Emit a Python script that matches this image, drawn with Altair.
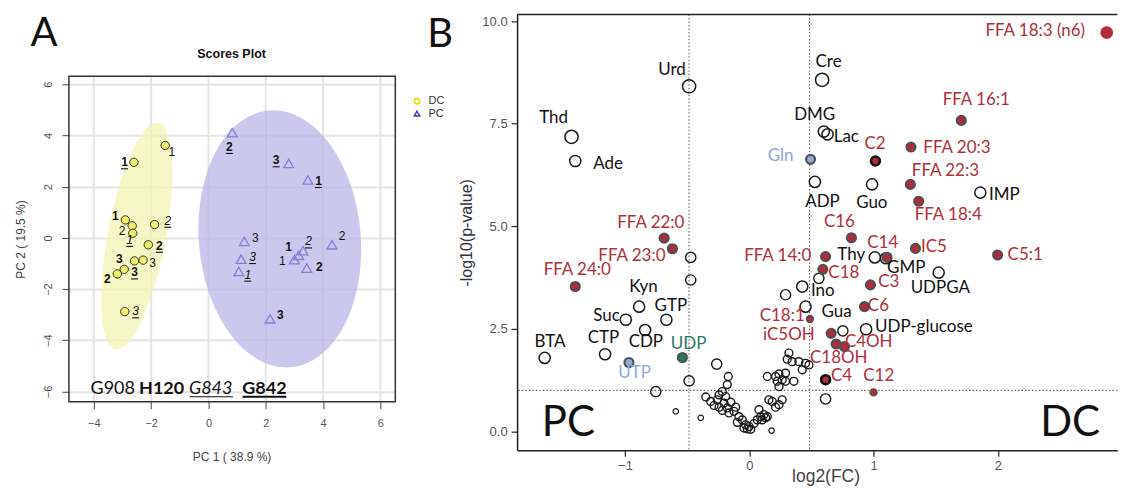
import altair as alt
import numpy as np
import pandas as pd

# ---------------- Panel A data (PCA scores) ----------------
dc_x = [-1.51, -2.60, -2.90, -2.66, -2.64, -1.88, -2.10, -2.58, -2.28, -2.94, -3.18, -2.92]
dc_y = [3.61, 2.95, 0.70, 0.47, 0.18, 0.52, -0.27, -0.90, -0.87, -1.23, -1.41, -2.88]
dc_lbl = ["1", "1", "1", "2", "1", "2", "2", "3", "3", "3", "2", "3"]
dc_sty = ["P", "BU", "B", "P", "IU", "IU", "BU", "B", "P", "BU", "B", "IU"]
dc_lx = [-1.28, -2.93, -3.25, -3.01, -2.75, -1.42, -1.71, -3.11, -1.95, -2.58, -3.53, -2.54]
dc_ly = [3.36, 2.95, 0.87, 0.27, -0.08, 0.67, -0.31, -0.83, -0.97, -1.35, -1.61, -2.87]

pc_x = [0.83, 2.80, 3.47, 1.25, 1.14, 1.06, 3.00, 3.15, 3.30, 3.43, 4.31, 2.15]
pc_y = [4.11, 2.91, 2.26, -0.14, -0.83, -1.31, -0.85, -0.68, -0.50, -1.18, -0.27, -3.16]
pc_lbl = ["2", "3", "1", "3", "3", "1", "1", "1", "2", "2", "2", "3"]
pc_sty = ["BU", "BU", "BU", "P", "IU", "IU", "P", "B", "IU", "B", "P", "B"]
pc_lx = [0.73, 2.36, 3.84, 1.64, 1.54, 1.37, 2.58, 2.80, 3.49, 3.87, 4.66, 2.51]
pc_ly = [3.55, 3.03, 2.22, -0.01, -0.75, -1.44, -0.92, -0.34, -0.14, -1.12, 0.08, -3.03]

# confidence ellipses: centre, conjugate half-axis (to top point), horizontal half-width
ell_dc = dict(cx=-2.50, cy=0.07, ux=0.70, uy=4.43, w=1.03)
ell_pc = dict(cx=2.49, cy=-0.04, ux=-0.23, uy=5.02, w=2.83)

ticksA = [-4, -2, 0, 2, 4, 6]
ticksAy = [-6, -4, -2, 0, 2, 4, 6]

# ---------------- Panel B data (volcano) ----------------
b_name = ["Urd", "Thd", "Ade", "Kyn", "Suc", "GTP", "CDP", "CTP", "BTA", "Cre", "DMG", "Lac",
          "ADP", "Guo", "IMP", "Thy", "GMP", "Ino", "Gua", "UDP-glucose", "UDPGA",
          "FFA 22:0", "FFA 23:0", "FFA 24:0", "FFA 18:3 (n6)", "FFA 16:1", "C2", "FFA 20:3",
          "FFA 22:3", "FFA 18:4", "C16", "FFA 14:0", "C14", "IC5", "C18", "C3", "C6", "C18:1",
          "iC5OH", "C18OH", "C4OH", "C4", "C12", "C5:1",
          "Gln", "UTP", "UDP"]
b_x = [-0.484, -1.43, -1.40, -0.886, -0.993, -0.667, -0.838, -1.16, -1.646, 0.586, 0.600, 0.630,
       0.528, 0.988, 1.859, 1.01, 1.10, 0.426, 0.453, 0.940, 1.524,
       -0.685, -0.618, -1.40, 2.876, 1.706, 1.015, 1.301,
       1.296, 1.363, 0.822, 0.614, 1.108, 1.337, 0.592, 0.975, 0.927, 0.488,
       0.659, 0.699, 0.766, 0.614, 1.0, 1.998,
       0.493, -0.968, -0.538]
b_y = [8.41, 7.18, 6.59, 3.04, 2.72, 2.72, 2.47, 1.88, 1.79, 8.57, 7.31, 7.24,
       6.08, 6.02, 5.82, 4.24, 4.22, 3.53, 3.04, 2.49, 3.87,
       4.71, 4.45, 3.53, 9.72, 7.58, 6.59, 6.93,
       6.02, 5.61, 4.72, 4.26, 4.24, 4.46, 3.95, 3.57, 3.04, 2.74,
       2.39, 2.13, 2.07, 1.26, 0.95, 4.30,
       6.63, 1.68, 1.80]
b_group = (["other"] * 21) + (["lipid"] * 23) + ["glnutp", "glnutp", "udp"]
b_lx = [-0.621, -1.574, -1.136, -0.851, -1.149, -0.631, -0.832, -1.173, -1.603, 0.638, 0.526, 0.781,
        0.589, 0.986, 2.052, 0.820, 1.263, 0.592, 0.703, 1.405, 1.537,
        -0.792, -0.944, -1.384, 2.301, 1.826, 1.012, 1.671,
        1.578, 1.601, 0.725, 0.229, 1.074, 1.486, 0.761, 1.122, 1.039, 0.265,
        0.319, 0.720, 0.961, 0.742, 1.042, 2.220,
        0.252, -0.922, -0.488]
b_ly = [8.80, 7.63, 6.51, 3.51, 2.82, 3.06, 2.17, 2.27, 2.19, 9.00, 7.71, 7.18,
        5.60, 5.56, 5.76, 4.30, 3.98, 3.41, 2.92, 2.54, 3.49,
        5.09, 4.27, 3.93, 9.75, 8.07, 7.00, 6.91,
        6.34, 5.27, 5.11, 4.27, 4.58, 4.50, 3.87, 3.63, 3.06, 2.82,
        2.35, 1.79, 2.19, 1.34, 1.36, 4.30,
        6.72, 1.42, 2.13]

# unlabelled metabolites
cl_x = [-0.169, -0.177, -0.217, -0.243, -0.190, -0.350, -0.310, -0.257, -0.203, -0.149, -0.283,
        -0.243, -0.177, -0.109, -0.217, -0.163, -0.123, -0.083, -0.056, -0.096, -0.029, -0.043,
        -0.002, 0.038, 0.064, 0.092, 0.118, 0.078, 0.132, 0.104, 0.145, 0.158, 0.185, 0.239,
        0.265, 0.212, 0.145, 0.212, 0.239, 0.292, 0.265, 0.225, 0.292, 0.359, 0.239, 0.319,
        0.305, 0.345, 0.399, 0.453, 0.426, 0.480, -0.016, 0.012]
cl_y = [1.34, 1.14, 0.97, 0.89, 0.85, 0.84, 0.73, 0.77, 0.69, 0.71, 0.63,
        0.59, 0.57, 0.59, 0.51, 0.45, 0.49, 0.36, 0.28, 0.22, 0.16, 0.08,
        0.12, 0.19, 0.28, 0.36, 0.41, 0.53, 0.33, 0.28, 0.36, 0.77, 0.73, 0.65,
        0.77, 0.59, 1.34, 1.34, 1.40, 1.42, 1.26, 1.22, 1.22, 1.22, 1.09, 1.91,
        1.76, 1.70, 1.70, 1.66, 1.50, 1.62, 0.06, 0.05]
ul_x = [-0.471, -0.471, 0.56, 0.292, 0.753, -0.262, -0.484, -0.752, 0.614]
ul_y = [4.24, 3.69, 3.73, 3.33, 2.45, 1.64, 1.23, 0.97, 0.79]
sm_x = [-0.591, -0.39, 0.18]
sm_y = [0.49, 0.33, 0.02]

fc_cut = [-0.485, 0.485]
p_cut = [1.0]
ticksBx = [-1, 0, 1, 2]
ticksBy = [0, 2.5, 5, 7.5, 10]

# ---------------- helpers ----------------
def ellipse_df(e, n=90):
    th = np.linspace(0, np.pi, n)
    dy = e["uy"] * np.cos(th)
    mid = e["cx"] + e["ux"] / e["uy"] * dy
    half = e["w"] * np.sqrt(np.clip(1 - (dy / e["uy"]) ** 2, 0, None))
    return pd.DataFrame({"y": e["cy"] + dy, "xa": mid - half, "xb": mid + half})

A_W, A_H = 327, 388      # panel A group height; plot frame from y=62 to y=388
A_TOP = 62
B_W, B_H = 601.3, 436.7
FONT = "Liberation Sans"
CAL = "Lato"

xsA = alt.Scale(domain=[-4.87, 6.52], nice=False, zero=False)
ysA = alt.Scale(domain=[-6.4, 6.31], nice=False, zero=False, range=[A_H, A_TOP])
axAx = alt.Axis(values=ticksA, grid=False, domain=False,
                tickColor="#444", tickSize=7, labelColor="#555", labelFont=FONT, labelFontSize=11,
                labelPadding=9, title="PC 1 ( 38.9 %)", titleFont=FONT, titleFontSize=12,
                titleFontWeight="normal", titleColor="#444", titleX=163, titleY=55,
                titleBaseline="middle", titleAlign="center")
axAy = alt.Axis(values=ticksAy, grid=True, gridColor="#e4e4e4", gridWidth=2, domain=False,
                tickColor="#444", tickSize=7, labelColor="#555", labelFont=FONT, labelFontSize=11,
                labelAngle=270, labelAlign="center", labelBaseline="bottom", labelPadding=8,
                title="PC 2 ( 19.5 %)", titleFont=FONT, titleFontSize=12, titleFontWeight="normal",
                titleColor="#444", titleX=-48.3, titleY=225, titleAngle=270,
                titleBaseline="middle", titleAlign="center")

def AX(f):
    return alt.X(f, type="quantitative", scale=xsA, axis=axAx)

def AY(f):
    return alt.Y(f, type="quantitative", scale=ysA, axis=axAy)

dc = pd.DataFrame({"x": dc_x, "y": dc_y, "lbl": dc_lbl, "sty": dc_sty, "lx": dc_lx, "ly": dc_ly})
pc = pd.DataFrame({"x": pc_x, "y": pc_y, "lbl": pc_lbl, "sty": pc_sty, "lx": pc_lx, "ly": pc_ly})
labA = pd.concat([dc, pc], ignore_index=True)
one = pd.DataFrame({"t": [""]})

gridA = alt.Chart(pd.DataFrame({"t": ticksA})).mark_rule(color="#e4e4e4", strokeWidth=2).encode(
    x=AX("t"), y=alt.value(A_TOP), y2=alt.value(A_H))

ellA = alt.Chart(ellipse_df(ell_dc)).mark_area(orient="horizontal", color="#f3f3b4", opacity=0.75).encode(
    y=AY("y"), x=AX("xa"), x2="xb")
ellB = alt.Chart(ellipse_df(ell_pc)).mark_area(orient="horizontal", color="#b8b3e6", opacity=0.72).encode(
    y=AY("y"), x=AX("xa"), x2="xb")

ptsDC = alt.Chart(dc).mark_point(shape="circle", filled=True, fill="#f2ec6c", stroke="#333",
                                 strokeWidth=1, size=70, opacity=1).encode(x=AX("x"), y=AY("y"))
ptsPC = alt.Chart(pc).mark_point(shape="triangle-up", filled=False, color="#8080d4", strokeWidth=1.3,
                                 size=95, opacity=1).encode(x=AX("x"), y=AY("y"))

def lab_layer(styles, weight, style):
    return alt.Chart(labA).transform_filter(alt.FieldOneOfPredicate(field="sty", oneOf=styles)).mark_text(
        font=FONT, fontSize=12, fontWeight=weight, fontStyle=style, color="#111",
        align="center", baseline="middle").encode(x=AX("lx"), y=AY("ly"), text="lbl:N")

labP = lab_layer(["P"], "normal", "normal")
labB = lab_layer(["B", "BU"], "bold", "normal")
labI = lab_layer(["IU"], "normal", "italic")
underA = alt.Chart(labA).transform_filter(alt.FieldOneOfPredicate(field="sty", oneOf=["BU", "IU"])).mark_rule(
    color="#111", strokeWidth=1.1, yOffset=6.5, xOffset=-3.5, x2Offset=3.5).encode(
    x=AX("lx"), x2="lx", y=AY("ly"))

def vtext(txt, x, y, size, weight="normal", style="normal", align="left", font=CAL, color="#111",
          baseline="alphabetic"):
    return alt.Chart(pd.DataFrame({"t": [txt]})).mark_text(
        font=font, fontSize=size, fontWeight=weight, fontStyle=style, align=align,
        baseline=baseline, color=color).encode(x=alt.value(x), y=alt.value(y), text="t:N")

cells = [vtext("G908", 21.7, 380.3, 18), vtext("H120", 70.3, 380.3, 18, weight="bold"),
         vtext("G843", 120.3, 380.3, 18, style="italic"), vtext("G842", 173.7, 380.3, 18, weight="bold")]
ul1 = alt.Chart(one).mark_rule(color="#111", strokeWidth=1.2).encode(
    x=alt.value(121), x2=alt.value(164.3), y=alt.value(383))
ul2 = alt.Chart(one).mark_rule(color="#111", strokeWidth=2).encode(
    x=alt.value(174), x2=alt.value(217.7), y=alt.value(383))

titleA = vtext("Scores Plot", 163, 40, 12.5, weight="bold", align="center", font=FONT,
               baseline="middle")
letterA = vtext("A", -24.8, 31.7, 40, align="center", font=CAL)
letterB = vtext("B", 372, 32.7, 40, align="center", font=CAL)

legC = alt.Chart(one).mark_point(shape="circle", filled=False, color="#e6dc10", strokeWidth=1.6,
                                 size=28, opacity=1).encode(x=alt.value(348.7), y=alt.value(87))
legT = alt.Chart(one).mark_point(shape="triangle-up", filled=False, color="#4a4ac0", strokeWidth=1.6,
                                 size=28, opacity=1).encode(x=alt.value(348.7), y=alt.value(99.3))
legDC = vtext("DC", 360.3, 87, 11, font=FONT, color="#333", baseline="middle")
legPC = vtext("PC", 360.3, 99.3, 11, font=FONT, color="#333", baseline="middle")

frameA = alt.Chart(one).mark_rect(fillOpacity=0, stroke="#333", strokeWidth=1.5).encode(
    x=alt.value(0), x2=alt.value(A_W), y=alt.value(A_TOP), y2=alt.value(A_H))
anchorA = alt.Chart(one).mark_rule(opacity=0, strokeWidth=0.1).encode(
    x=alt.value(-61), x2=alt.value(387), y=alt.value(-6), y2=alt.value(-6))

panelA = alt.layer(gridA, ellA, ellB, ptsDC, ptsPC, labP, labB, labI, underA, *cells, ul1, ul2,
                   titleA, letterA, letterB, legC, legT, legDC, legPC, frameA, anchorA).properties(
    width=A_W, height=A_H)

# ---------------- Panel B ----------------
xsB = alt.Scale(domain=[-1.868, 2.961], nice=False, zero=False)
ysB = alt.Scale(domain=[-0.462, 10.163], nice=False, zero=False)
axBx = alt.Axis(values=ticksBx, grid=False, domainColor="#222", domainWidth=1.5, tickColor="#222",
                tickSize=6, tickWidth=1.2, labelColor="#555", labelFont=FONT, labelFontSize=13,
                labelPadding=3, title="log2(FC)", titleFont=FONT, titleFontSize=17.5,
                titleFontWeight="normal", titleColor="#444", titleX=309, titleY=26,
                titleAlign="center", titleBaseline="middle")
axBy = alt.Axis(values=ticksBy, format=".1f", grid=False, domainColor="#222", domainWidth=1.5,
                tickColor="#222", tickSize=6, tickWidth=1.2, labelColor="#555", labelFont=FONT,
                labelFontSize=13, labelPadding=4, title="-log10(p-value)", titleFont=FONT,
                titleFontSize=16, titleFontWeight="normal", titleColor="#333", titleX=-50.7,
                titleY=218.3, titleAngle=270, titleAlign="center", titleBaseline="middle")

def BX(f):
    return alt.X(f, type="quantitative", scale=xsB, axis=axBx)

def BY(f):
    return alt.Y(f, type="quantitative", scale=ysB, axis=axBy)

named = pd.DataFrame({"name": b_name, "x": b_x, "y": b_y, "group": b_group, "lx": b_lx, "ly": b_ly})
clus = pd.DataFrame({"x": cl_x, "y": cl_y})
unl = pd.DataFrame({"x": ul_x, "y": ul_y})
sml = pd.DataFrame({"x": sm_x, "y": sm_y})

vcut = alt.Chart(pd.DataFrame({"t": fc_cut})).mark_rule(color="#666", strokeWidth=1.1,
                                                         strokeDash=[1.5, 2]).encode(x=BX("t"))
hcut = alt.Chart(pd.DataFrame({"t": p_cut})).mark_rule(color="#666", strokeWidth=1.1,
                                                        strokeDash=[1.5, 2]).encode(y=BY("t"))
topline = alt.Chart(one).mark_rule(color="#222", strokeWidth=1.5).encode(
    x=alt.value(0), x2=alt.value(B_W), y=alt.value(0))

def open_pts(df, size, sw=1.4):
    return alt.Chart(df).mark_point(shape="circle", filled=False, color="#1a1a1a", strokeWidth=sw,
                                    size=size, opacity=1).encode(x=BX("x"), y=BY("y"))

big_open = ["Urd", "Thd", "Cre"]
red_black = ["C2", "C4"]
red_plain = ["FFA 18:3 (n6)"]
red_small = ["C12", "C18:1"]
special = big_open + red_black + red_plain + red_small

fill_scale = alt.Scale(domain=["lipid", "glnutp", "udp"], range=["#b22b3a", "#8eaadb", "#1f7a64"])
col_scale = alt.Scale(domain=["other", "lipid", "glnutp", "udp"],
                      range=["#111111", "#b0303c", "#8eaadb", "#2a7a66"])

openN = alt.Chart(named).transform_filter(alt.FieldEqualPredicate(field="group", equal="other")).transform_filter(
    ~alt.FieldOneOfPredicate(field="name", oneOf=big_open)).mark_point(
    shape="circle", filled=False, color="#1a1a1a", strokeWidth=1.5, size=125, opacity=1).encode(
    x=BX("x"), y=BY("y"))
openBig = alt.Chart(named).transform_filter(alt.FieldOneOfPredicate(field="name", oneOf=big_open)).mark_point(
    shape="circle", filled=False, color="#1a1a1a", strokeWidth=1.5, size=175, opacity=1).encode(
    x=BX("x"), y=BY("y"))

def filled_pts(pred, size, stroke, sw):
    return alt.Chart(named).transform_filter(pred).mark_point(
        shape="circle", filled=True, stroke=stroke, strokeWidth=sw, size=size, opacity=1).encode(
        x=BX("x"), y=BY("y"), fill=alt.Fill("group:N", scale=fill_scale, legend=None))

colored = alt.FieldOneOfPredicate(field="group", oneOf=["lipid", "glnutp", "udp"])
redN = filled_pts({"and": [colored, {"not": alt.FieldOneOfPredicate(field="name", oneOf=special)}]},
                  80, "#505050", 2.2)
redK = filled_pts(alt.FieldOneOfPredicate(field="name", oneOf=red_black), 80, "#111", 2.6)
redP = filled_pts(alt.FieldOneOfPredicate(field="name", oneOf=red_plain), 150, "#b22b3a", 0.5)
redS = filled_pts(alt.FieldOneOfPredicate(field="name", oneOf=red_small), 45, "#505050", 1.6)

labelsB = alt.Chart(named).mark_text(font=CAL, fontSize=17, align="center", baseline="middle").encode(
    x=BX("lx"), y=BY("ly"), text="name:N", color=alt.Color("group:N", scale=col_scale, legend=None))

bigPC = vtext("PC", 51.3, 422.7, 42, align="center")
bigDC = vtext("DC", 554, 422.7, 42, align="center")
anchorB = alt.Chart(one).mark_rule(opacity=0, strokeWidth=0.1).encode(
    x=alt.value(-61.7), x2=alt.value(0), y=alt.value(-6), y2=alt.value(-6))

panelB = alt.layer(vcut, hcut, topline, open_pts(clus, 62), open_pts(unl, 105), open_pts(sml, 30, 1.2),
                   openN, openBig, redN, redK, redP, redS, labelsB, bigPC, bigDC, anchorB).properties(
    width=B_W, height=B_H)

chart = alt.hconcat(panelA, panelB, spacing=0).properties(padding=0).configure_view(strokeWidth=0)

chart.save("out.html", embed_options={"renderer": "svg", "actions": False})
